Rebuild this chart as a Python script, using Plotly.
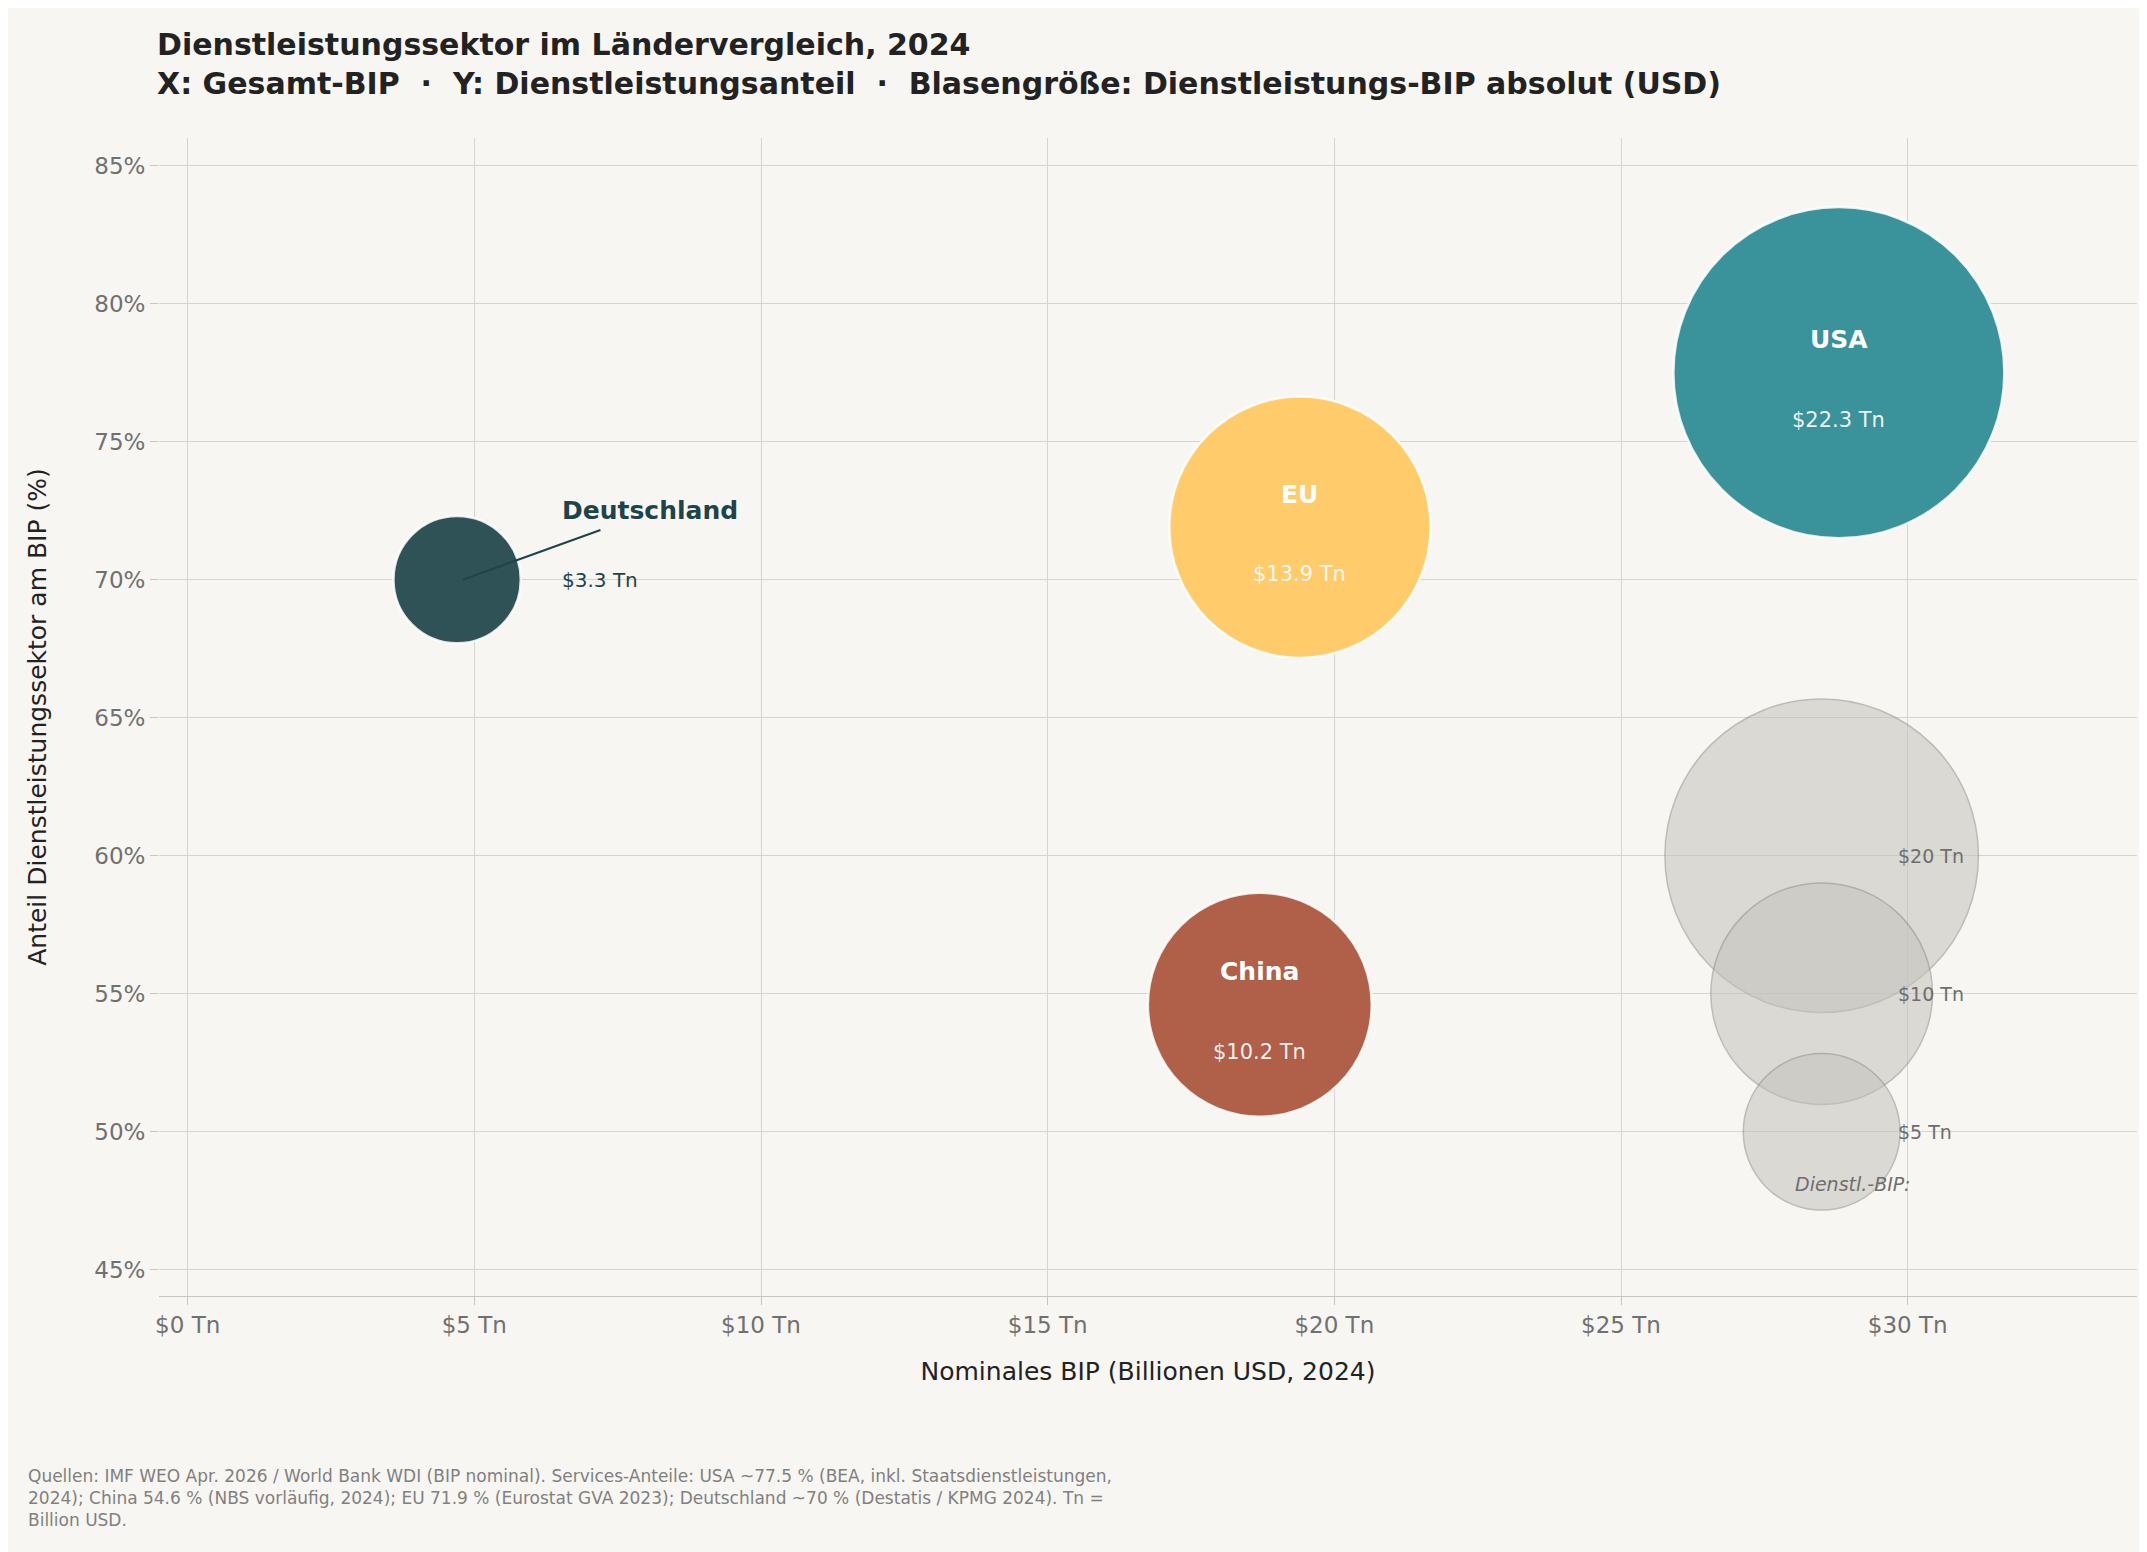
import plotly.graph_objects as go

names = ["USA", "EU", "China", "Deutschland"]
gdp = [28.8, 19.4, 18.7, 4.7]
share = [77.5, 71.9, 54.6, 70.0]
serv = [22.3, 13.9, 10.2, 3.3]
colors = ["#3a929a", "#ffcb6b", "#b05f48", "#2f5256"]

leg_vals = [20, 10, 5]
leg_y = [60, 55, 50]
leg_x = 28.5

K = 70.1
def sz(v):
    return K * v ** 0.5

fig = go.Figure()
fig.add_trace(go.Scatter(x=[leg_x]*3, y=leg_y, mode="markers",
    marker=dict(size=[sz(v) for v in leg_vals], sizemode="diameter", opacity=0.55,
                color="#c4c2bc", line=dict(color="#8e8c88", width=1.5)),
    hoverinfo="skip", showlegend=False))
fig.add_trace(go.Scatter(x=gdp, y=share, mode="markers",
    marker=dict(size=[sz(v) for v in serv], sizemode="diameter", color=colors, opacity=1,
                line=dict(color="rgba(255,255,255,0.85)", width=2.5)),
    showlegend=False))

for n, x, y, v in zip(names[:3], gdp[:3], share[:3], serv[:3]):
    fig.add_annotation(x=x, y=y + 1.2, text=f"<b>{n}</b>", showarrow=False,
                       font=dict(color="white", size=25))
    fig.add_annotation(x=x, y=y - 1.7, text=f"${v} Tn", showarrow=False,
                       font=dict(color="rgba(255,255,255,0.92)", size=21))

fig.add_shape(type="line", x0=4.8, y0=70.0, x1=7.2, y1=71.8, line=dict(color="#1d4448", width=2))
fig.add_annotation(x=6.5, y=72.5, text="<b>Deutschland</b>", xanchor="left", showarrow=False,
                   font=dict(color="#1d4448", size=25))
fig.add_annotation(x=6.5, y=70.0, text=f"${serv[3]} Tn", xanchor="left", showarrow=False,
                   font=dict(color="#1d4448", size=20))

for v, y in zip(leg_vals, leg_y):
    fig.add_annotation(x=29.8, y=y, text=f"${v} Tn", xanchor="left", showarrow=False,
                       font=dict(color="#6e6e6e", size=19))
fig.add_annotation(x=28.0, y=48.1, text="<i>Dienstl.-BIP:</i>", xanchor="left", showarrow=False,
                   font=dict(color="#6e6e6e", size=19))

fig.add_annotation(xref="paper", yref="paper", x=-0.002, y=1.03, yanchor="bottom", xanchor="left",
    text="<b>Dienstleistungssektor im Ländervergleich, 2024<br>X: Gesamt-BIP  ·  Y: Dienstleistungsanteil  ·  Blasengröße: Dienstleistungs-BIP absolut (USD)</b>",
    showarrow=False, align="left", font=dict(size=30, color="#222222"))
fig.add_annotation(xref="paper", yref="paper", x=-0.067, y=-0.145, yanchor="top", xanchor="left",
    text="Quellen: IMF WEO Apr. 2026 / World Bank WDI (BIP nominal). Services-Anteile: USA ~77.5 % (BEA, inkl. Staatsdienstleistungen,<br>2024); China 54.6 % (NBS vorläufig, 2024); EU 71.9 % (Eurostat GVA 2023); Deutschland ~70 % (Destatis / KPMG 2024). Tn =<br>Billion USD.",
    showarrow=False, align="left", font=dict(size=17, color="#808080"))

tickv = [0, 5, 10, 15, 20, 25, 30]
fig.update_layout(
    width=2147, height=1552, paper_bgcolor="#f8f6f2", plot_bgcolor="#f8f6f2",
    margin=dict(l=151, r=18, t=130, b=264),
    font=dict(family="DejaVu Sans", color="#333333"),
    xaxis=dict(range=[-0.5, 34.0], tickvals=tickv, ticktext=[f"${t} Tn" for t in tickv],
               gridcolor="#d6d4cf", zeroline=False, showline=True, linecolor="#c8c6c0",
               ticks="outside", tickcolor="#c8c6c0", ticklen=8, tickfont=dict(size=23, color="#707070"),
               title=dict(text="Nominales BIP (Billionen USD, 2024)", font=dict(size=25, color="#222222"), standoff=25)),
    yaxis=dict(range=[44.05, 86.0], tickvals=[45, 50, 55, 60, 65, 70, 75, 80, 85],
               ticktext=[f"{t}%" for t in [45, 50, 55, 60, 65, 70, 75, 80, 85]],
               gridcolor="#d6d4cf", zeroline=False, showline=False,
               ticks="outside", tickcolor="#c8c6c0", ticklen=8, tickfont=dict(size=23, color="#707070"),
               title=dict(text="Anteil Dienstleistungssektor am BIP (%)", font=dict(size=25, color="#222222"), standoff=40)),
)
fig.write_html("out.html")
